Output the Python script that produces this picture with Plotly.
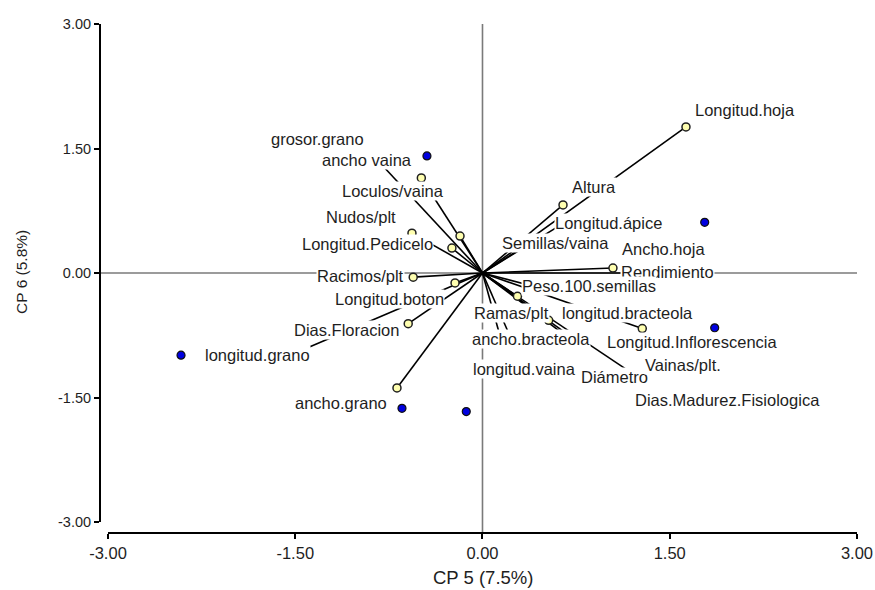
import plotly.graph_objects as go

# ---------------- data ----------------
# observations (blue points)
obs_x = [-0.445, 1.78, -2.415, 1.86, -0.645, -0.13]
obs_y = [1.41, 0.61, -0.99, -0.66, -1.63, -1.67]

# variables (vector end points)
var_names = ["Longitud.hoja", "Altura", "Longitud.ápice", "Semillas/vaina", "Ancho.hoja",
             "Rendimiento", "Peso.100.semillas", "Ramas/plt", "longitud.bracteola",
             "Longitud.Inflorescencia", "ancho.bracteola", "longitud.vaina", "Diámetro",
             "Vainas/plt.", "Dias.Madurez.Fisiologica", "Racimos/plt", "Longitud.boton",
             "Dias.Floracion", "longitud.grano", "ancho.grano", "Longitud.Pedicelo",
             "Nudos/plt", "Loculos/vaina", "ancho vaina", "grosor.grano"]
var_x = [1.63, 0.645, 0.66, 0.34, 1.045, 1.165, 0.46, 0.28, 0.53, 1.28, 0.15, 0.24, 0.765,
         1.23, 0.74, -0.555, -0.22, -0.595, -1.462, -0.685, -0.565, -0.18, -0.245, -0.49, -0.82]
var_y = [1.76, 0.82, 0.61, 0.325, 0.06, 0.0, -0.18, -0.28, -0.57, -0.67, -0.81, -0.83, -0.831,
         -1.24, -0.84, -0.05, -0.12, -0.61, -0.94, -1.385, 0.48, 0.445, 0.30, 1.145, 1.325]

# label positions (centre of each variable's text)
lab_x = [2.103, 0.893, 1.013, 0.581, 1.446, 1.478, 0.853, 0.236, 1.158, 1.686, 0.389, 0.340,
         1.061, 1.606, 1.959, -0.981, -0.741, -1.093, -1.799, -1.134, -0.925, -0.973, -0.717,
         -0.925, -1.322]
lab_y = [1.964, 1.036, 0.602, 0.361, 0.289, 0.012, -0.157, -0.482, -0.482, -0.831, -0.795,
         -1.157, -1.253, -1.108, -1.530, -0.036, -0.313, -0.687, -0.988, -1.566, 0.349, 0.675,
         0.988, 1.361, 1.614]

tick_vals = [-3.0, -1.5, 0.0, 1.5, 3.0]
tick_text = ["-3.00", "-1.50", "0.00", "1.50", "3.00"]
x_title = "CP 5 (7.5%)"
y_title = "CP 6 (5.8%)"

# ---------------- figure ----------------
FONT = "Liberation Sans, Arial, sans-serif"
NARROW = "Liberation Sans Narrow, Arial Narrow, Liberation Sans, Arial, sans-serif"

line_x, line_y = [], []
for vx, vy in zip(var_x, var_y):
    line_x += [0, vx, None]
    line_y += [0, vy, None]

fig = go.Figure()
fig.add_trace(go.Scatter(x=line_x, y=line_y, mode="lines",
                         line=dict(color="black", width=1.6), hoverinfo="skip",
                         showlegend=False))
fig.add_trace(go.Scatter(x=var_x, y=var_y, mode="markers",
                         marker=dict(size=8, color="#ffffb0",
                                     line=dict(color="#202020", width=1.5)),
                         text=var_names, showlegend=False))
fig.add_trace(go.Scatter(x=obs_x, y=obs_y, mode="markers",
                         marker=dict(size=8, color="#0000e0",
                                     line=dict(color="#101010", width=1.2)),
                         showlegend=False))

for name, lx, ly in zip(var_names, lab_x, lab_y):
    fig.add_annotation(x=lx, y=ly, xref="x", yref="y", text=name, showarrow=False,
                       xanchor="center", yanchor="middle", bgcolor="white", borderpad=0,
                       font=dict(family=FONT, size=16.5, color="#1e1e1e"))

# titles
fig.add_annotation(x=-0.103, y=0.513, xref="paper", yref="paper", text=y_title,
                   textangle=-90, showarrow=False, xanchor="center", yanchor="middle",
                   font=dict(family=FONT, size=15.5, color="#1e1e1e"))
fig.add_annotation(x=0.506, y=-0.088, xref="paper", yref="paper", text=x_title,
                   showarrow=False, xanchor="center", yanchor="middle",
                   font=dict(family=NARROW, size=18.5, color="#1e1e1e"))

# zero reference lines
fig.add_shape(type="line", xref="paper", yref="y", x0=0, x1=1, y0=0, y1=0,
              line=dict(color="#7a7a7a", width=1.6), layer="below")
fig.add_shape(type="line", xref="x", yref="paper", x0=0, x1=0, y0=0, y1=1,
              line=dict(color="#7a7a7a", width=1.6), layer="below")
# axis lines (offset style)
fig.add_shape(type="line", xref="x", yref="paper", x0=-3, x1=3, y0=0, y1=0,
              line=dict(color="black", width=2))
fig.add_shape(type="line", xref="paper", yref="y", x0=0, x1=0, y0=-3, y1=3,
              line=dict(color="black", width=2))

fig.update_xaxes(range=[-3.064, 3.0], showgrid=False, zeroline=False, showline=False,
                 automargin=False,
                 tickvals=tick_vals, ticktext=tick_text, ticks="outside", ticklen=5,
                 tickwidth=2, tickcolor="black",
                 tickfont=dict(family=NARROW, size=16.5, color="#1e1e1e"))
fig.update_yaxes(range=[-3.1325, 3.0], showgrid=False, zeroline=False, showline=False,
                 automargin=False,
                 tickvals=tick_vals, ticktext=tick_text, ticks="outside", ticklen=5,
                 tickwidth=2, tickcolor="black",
                 tickfont=dict(family=FONT, size=14.5, color="#1e1e1e"))

fig.update_layout(width=875, height=590, margin=dict(l=100, r=18, t=24, b=57),
                  plot_bgcolor="white", paper_bgcolor="white", showlegend=False)

fig.write_html("out.html")
